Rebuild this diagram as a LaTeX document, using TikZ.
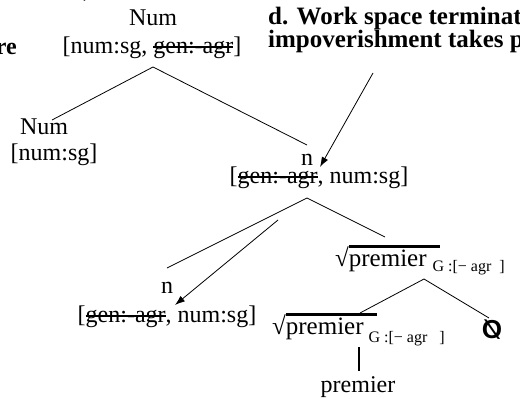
\documentclass[tikz,border=0pt]{standalone}
\usepackage{fontspec}
\setmainfont{Liberation Serif}
\newfontfamily\sanssym{Liberation Sans}
\usepackage{graphicx}
\usepackage{tikz}
\usetikzlibrary{arrows.meta}

\newcommand{\struck}[1]{\setbox0\hbox{#1}\rlap{\rule[5.5pt]{\wd0}{1.4pt}}\box0}
\newcommand{\rootword}[1]{√\rlap{\rule[18pt]{91pt}{3pt}}#1}
\newcommand{\gsub}[2]{\raisebox{-#1}{\fontsize{16}{18}\selectfont G :[− agr#2]}}

\begin{document}
\begin{tikzpicture}[x=1pt, y=-1pt,
    every node/.style={font=\fontsize{24}{28}\selectfont, inner sep=0pt},
    lbl/.style={anchor=base},
    rootlbl/.style={anchor=base west, font=\fontsize{25}{28}\selectfont},
    note/.style={anchor=base west, font=\fontsize{25}{28}\selectfont\bfseries},
    branch/.style={line width=0.8pt},
    mover/.style={line width=0.8pt, -{Latex[length=10pt,width=7pt]}}]
    \useasboundingbox (0,0) rectangle (520,399);
    \clip (0,0) rectangle (520,399);
    % cropped text round the tree
    \node[anchor=base] (paren) at (87,-4) {)};
    \node[anchor=base east, font=\fontsize{24}{28}\selectfont\bfseries] (noteL) at (17,54) {re};
    \node[note] (noteA) at (268,24) {d. Work space terminates};
    \node[note] (noteB) at (268,47) {impoverishment takes place};
    % nodes
    \node[lbl] (topNum) at (153,25) {Num};
    \node[lbl] (topFeat) at (152,53) {[num:sg, \struck{gen:-agr}]};
    \node[lbl] (leftNum) at (44,134) {Num};
    \node[lbl] (leftFeat) at (54,160) {[num:sg]};
    \node[lbl] (nHead) at (307,165) {n};
    \node[lbl] (nFeat) at (319,183) {[\struck{gen:-agr}, num:sg]};
    \node[lbl] (nLow) at (167,293) {n};
    \node[lbl] (nLowFeat) at (167,322) {[\struck{gen:-agr}, num:sg]};
    \node[rootlbl] (rootUp) at (335,266) {\rootword{premier}\hspace{6pt}\gsub{5pt}{\ \ }};
    \node[rootlbl] (rootLow) at (272,334) {\rootword{premier}\hspace{5pt}\gsub{8pt}{\ \ \ }};
    \node[lbl, font=\fontsize{26}{28}\selectfont\sanssym\bfseries] (zero) at (492,338) {\reflectbox{Ø}};
    \node[lbl] (leaf) at (358,392) {premier};
    % branch points
    \coordinate (apexTop) at (153,67);
    \coordinate (endTopL) at (52,120);
    \coordinate (endTopR) at (307,145);
    \coordinate (apexN) at (307,198);
    \coordinate (endNL) at (167,268);
    \coordinate (endNR) at (385,237);
    \coordinate (apexRoot) at (424,279);
    \coordinate (endRootL) at (360,313);
    \coordinate (endRootR) at (489,318);
    \coordinate (tailA) at (373,73);
    \coordinate (headA) at (320,167);
    \coordinate (tailB) at (278,220);
    \coordinate (headB) at (175,305);
    \coordinate (leafTop) at (359,347);
    \coordinate (leafBot) at (359,371);
    \draw[branch] (endTopL) -- (apexTop) -- (endTopR);
    \draw[branch] (endNL) -- (apexN) -- (endNR);
    \draw[branch] (endRootL) -- (apexRoot) -- (endRootR);
    \draw[line width=2.5pt] (leafTop) -- (leafBot);
    \draw[mover] (tailA) -- (headA);
    \draw[mover] (tailB) -- (headB);
\end{tikzpicture}
\end{document}
